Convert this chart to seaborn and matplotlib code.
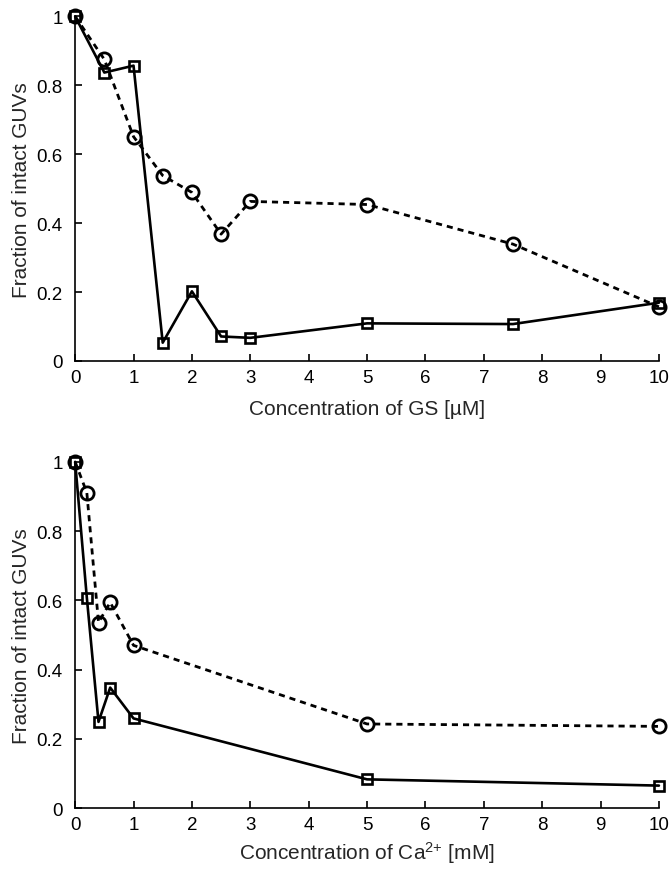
import matplotlib
matplotlib.use("Agg")
import matplotlib.pyplot as plt
import seaborn as sns

sns.set_style("ticks")
plt.rcParams["font.family"] = ["Liberation Sans", "DejaVu Sans"]
plt.rcParams["mathtext.default"] = "regular"

# -------- data --------
gs_conc = [0, 0.5, 1, 1.5, 2, 2.5, 3, 5, 7.5, 10]
gs_squares = [1.0, 0.837, 0.857, 0.053, 0.202, 0.071, 0.067, 0.109, 0.107, 0.169]
gs_circles = [1.0, 0.875, 0.651, 0.538, 0.489, 0.368, 0.463, 0.454, 0.339, 0.157]

ca_conc = [0, 0.2, 0.4, 0.6, 1, 5, 10]
ca_squares = [1.0, 0.608, 0.249, 0.348, 0.259, 0.083, 0.065]
ca_circles = [1.0, 0.911, 0.536, 0.594, 0.470, 0.243, 0.236]

y_ticks = [0, 0.2, 0.4, 0.6, 0.8, 1]
y_tick_labels = ["0", "0.2", "0.4", "0.6", "0.8", "1"]
x_ticks = list(range(0, 11))

fig = plt.figure(figsize=(6.71, 8.70), dpi=100)
ax_top = fig.add_axes([0.112, 0.584, 0.870, 0.396])
ax_bot = fig.add_axes([0.112, 0.070, 0.870, 0.398])


def draw_panel(ax, x, squares, circles, xlabel, xpad):
    sns.lineplot(x=x, y=circles, ax=ax, color="black", linewidth=2.0,
                 linestyle=(0, (2.2, 1.8)), marker="o", markersize=9.5,
                 markerfacecolor="none", markeredgecolor="black",
                 markeredgewidth=2.0, clip_on=False, zorder=3)
    sns.lineplot(x=x, y=squares, ax=ax, color="black", linewidth=1.9,
                 marker="s", markersize=7, markerfacecolor="none",
                 markeredgecolor="black", markeredgewidth=1.9,
                 clip_on=False, zorder=4)
    ax.set_xlim(0, 10)
    ax.set_ylim(0, 1)
    ax.set_xticks(x_ticks)
    ax.set_yticks(y_ticks)
    ax.set_yticklabels(y_tick_labels)
    ax.tick_params(direction="in", length=5, width=1.2, labelsize=13.5,
                   colors="black", pad=6)
    ax.tick_params(axis="y", pad=9)
    for side in ["top", "right"]:
        ax.spines[side].set_visible(False)
    for side in ["left", "bottom"]:
        ax.spines[side].set_linewidth(1.2)
        ax.spines[side].set_color("black")
    ax.set_xlabel(xlabel, fontsize=15, labelpad=xpad)
    ax.set_ylabel("Fraction of intact GUVs", fontsize=15, labelpad=4)


draw_panel(ax_top, gs_conc, gs_squares, gs_circles,
           "Concentration of GS [µM]", 9)
draw_panel(ax_bot, ca_conc, ca_squares, ca_circles,
           "Concentration of Ca$^{2{+}}$ [mM]", 4)

fig.savefig("out.png", dpi=100)
